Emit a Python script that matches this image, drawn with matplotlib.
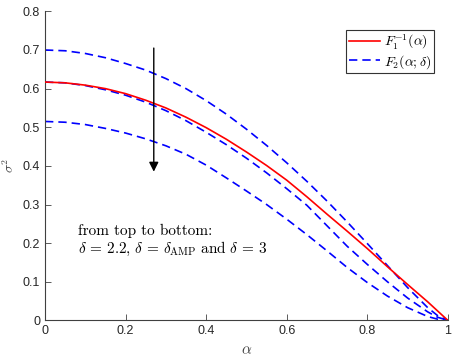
import numpy as np
import matplotlib.pyplot as plt

# =========================================================
# DATA
# =========================================================

alpha = [0.00, 0.05, 0.10, 0.15, 0.20, 0.25, 0.30, 0.35, 0.40, 0.45, 0.50,
         0.55, 0.60, 0.65, 0.70, 0.75, 0.80, 0.85, 0.90, 0.95, 0.975, 1.00]

f1_inv = [0.617, 0.615, 0.609, 0.600, 0.587, 0.570, 0.550, 0.526, 0.499, 0.469, 0.436,
          0.401, 0.363, 0.320, 0.275, 0.231, 0.186, 0.139, 0.093, 0.048, 0.024, 0.0]

f2_top = [0.700, 0.698, 0.691, 0.680, 0.665, 0.648, 0.626, 0.600, 0.569, 0.534, 0.495,
          0.453, 0.408, 0.360, 0.309, 0.255, 0.199, 0.142, 0.085, 0.033, 0.012, 0.0]

f2_mid = [0.617, 0.615, 0.608, 0.597, 0.583, 0.565, 0.543, 0.517, 0.487, 0.455, 0.420,
          0.382, 0.341, 0.298, 0.245, 0.192, 0.145, 0.100, 0.058, 0.022, 0.008, 0.0]

f2_bot = [0.515, 0.513, 0.507, 0.497, 0.485, 0.470, 0.452, 0.430, 0.402, 0.369, 0.335,
          0.300, 0.262, 0.222, 0.180, 0.137, 0.098, 0.063, 0.033, 0.010, 0.003, 0.0]

arrow_x = 0.27
arrow_from = 0.705
arrow_to = 0.385

x_ticks = [0, 0.2, 0.4, 0.6, 0.8, 1]
x_tick_labels = ["0", "0.2", "0.4", "0.6", "0.8", "1"]
y_ticks = [0, 0.1, 0.2, 0.3, 0.4, 0.5, 0.6, 0.7, 0.8]
y_tick_labels = ["0", "0.1", "0.2", "0.3", "0.4", "0.5", "0.6", "0.7", "0.8"]

# =========================================================
# FIGURE
# =========================================================

plt.rcParams["mathtext.fontset"] = "cm"
plt.rcParams["font.family"] = ["Liberation Sans", "DejaVu Sans"]

fig = plt.figure(figsize=(4.57, 3.61), dpi=100)
ax = fig.add_axes([0.0985, 0.1125, 0.8815, 0.856])

axis_col = "0.25"
dash = (5, 3)

ax.plot(alpha, f1_inv, color="red", lw=1.2, label=r"$F_1^{-1}(\alpha)$", zorder=3)
ax.plot(alpha, f2_top, color="blue", lw=1.2, dashes=dash, label=r"$F_2(\alpha;\delta)$")
ax.plot(alpha, f2_mid, color="blue", lw=1.2, dashes=dash)
ax.plot(alpha, f2_bot, color="blue", lw=1.2, dashes=dash)

ax.annotate(
    "",
    xy=(arrow_x, arrow_to),
    xytext=(arrow_x, arrow_from),
    arrowprops=dict(arrowstyle="-|>", color="black", lw=1.0,
                    mutation_scale=14, shrinkA=0, shrinkB=0)
)

# text block, LaTeX-like serif (cmr10 ships with matplotlib)
ax.text(0.082, 0.222, "from top to bottom:", fontsize=11,
        family=["cmr10", "DejaVu Serif"])
ax.text(0.082, 0.175,
        r"$\delta\,=\,2.2{,}\ \delta\,=\,\delta_{\mathrm{AMP}}\ \mathrm{and}\ \delta\,=\,3$",
        fontsize=11)

ax.set_xlim(0, 1)
ax.set_ylim(0, 0.8)
ax.set_xticks(x_ticks)
ax.set_xticklabels(x_tick_labels)
ax.set_yticks(y_ticks)
ax.set_yticklabels(y_tick_labels)

ax.tick_params(direction="in", length=4, width=0.6, colors=axis_col,
               labelsize=9, labelcolor="0.15")

for side in ["top", "right"]:
    ax.spines[side].set_visible(False)
for side in ["left", "bottom"]:
    ax.spines[side].set_color(axis_col)
    ax.spines[side].set_linewidth(0.8)

ax.set_xlabel(r"$\alpha$", fontsize=11, color="0.25", labelpad=4)
ax.set_ylabel(r"$\sigma^2$", fontsize=10, color="0.25", labelpad=5)

leg = ax.legend(
    loc="upper right",
    bbox_to_anchor=(0.966, 0.94),
    fontsize=10,
    fancybox=False,
    framealpha=1,
    edgecolor="0.2",
    handlelength=2.2,
    handletextpad=0.3,
    borderpad=0.2,
    labelspacing=0.1,
    borderaxespad=0
)
leg.get_frame().set_linewidth(0.8)

fig.savefig("out.png", dpi=100)
